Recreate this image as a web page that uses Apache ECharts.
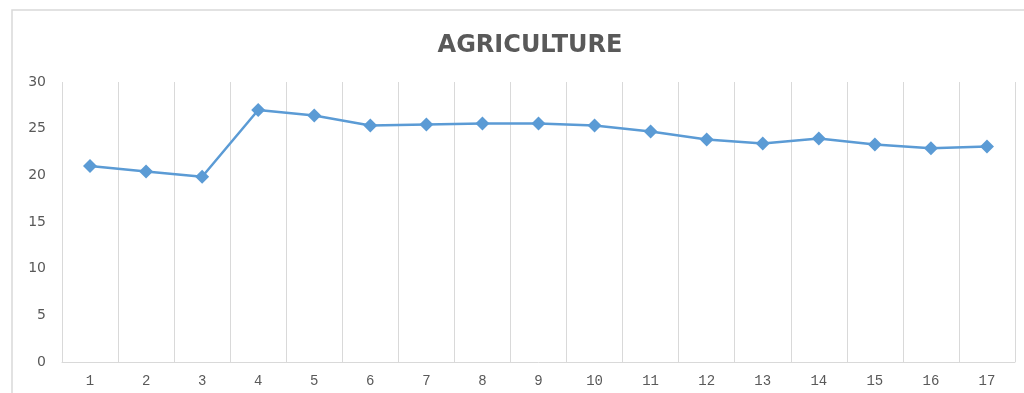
<!DOCTYPE html>
<html>
<head>
<meta charset="utf-8">
<script src="https://cdn.jsdelivr.net/npm/echarts@6/dist/echarts.min.js"></script>
<style>
  html, body { margin: 0; padding: 0; background: #fff; }
  #chart { width: 1024px; height: 393px; }
</style>
</head>
<body>
<div id="chart"></div>
<script>
// data
const categories = ["1", "2", "3", "4", "5", "6", "7", "8", "9", "10", "11", "12", "13", "14", "15", "16", "17"];
const values = [21.0, 20.4, 19.85, 27.0, 26.4, 25.35, 25.45, 25.55, 25.55, 25.35, 24.7, 23.85, 23.4, 23.95, 23.3, 22.9, 23.1];
const yTicks = { min: 0, max: 30, interval: 5 };

const grey = "#595959";
const gridGrey = "#d9d9d9";

const chart = echarts.init(document.getElementById("chart"));
chart.setOption({
  animation: false,
  backgroundColor: "#fff",
  title: {
    text: "AGRICULTURE",
    left: 525,
    top: 29,
    textAlign: "center",
    textStyle: { fontFamily: "DejaVu Sans", fontWeight: "bold", fontSize: 24, color: grey },
  },
  graphic: [{
    type: "rect",
    shape: { x: 12, y: 10, width: 1040, height: 420 },
    style: { fill: "none", stroke: gridGrey, lineWidth: 1.5 },
    silent: true,
  }],
  grid: { left: 62, right: 9, top: 82, bottom: 31 },
  xAxis: {
    type: "category",
    data: categories,
    boundaryGap: true,
    axisLine: { show: true, lineStyle: { color: gridGrey, width: 1 } },
    axisTick: { show: false },
    splitLine: { show: true, lineStyle: { color: gridGrey, width: 1 } },
    axisLabel: { color: grey, fontFamily: "Liberation Mono", fontSize: 14, margin: 12 },
  },
  yAxis: {
    type: "value",
    min: yTicks.min,
    max: yTicks.max,
    interval: yTicks.interval,
    axisLine: { show: false },
    axisTick: { show: false },
    splitLine: { show: false },
    axisLabel: { color: grey, fontFamily: "DejaVu Sans", fontSize: 14, margin: 16 },
  },
  series: [{
    type: "line",
    data: values,
    symbol: "diamond",
    symbolSize: 14,
    lineStyle: { color: "#5b9bd5", width: 2.5 },
    itemStyle: { color: "#5b9bd5" },
  }],
});
</script>
</body>
</html>
